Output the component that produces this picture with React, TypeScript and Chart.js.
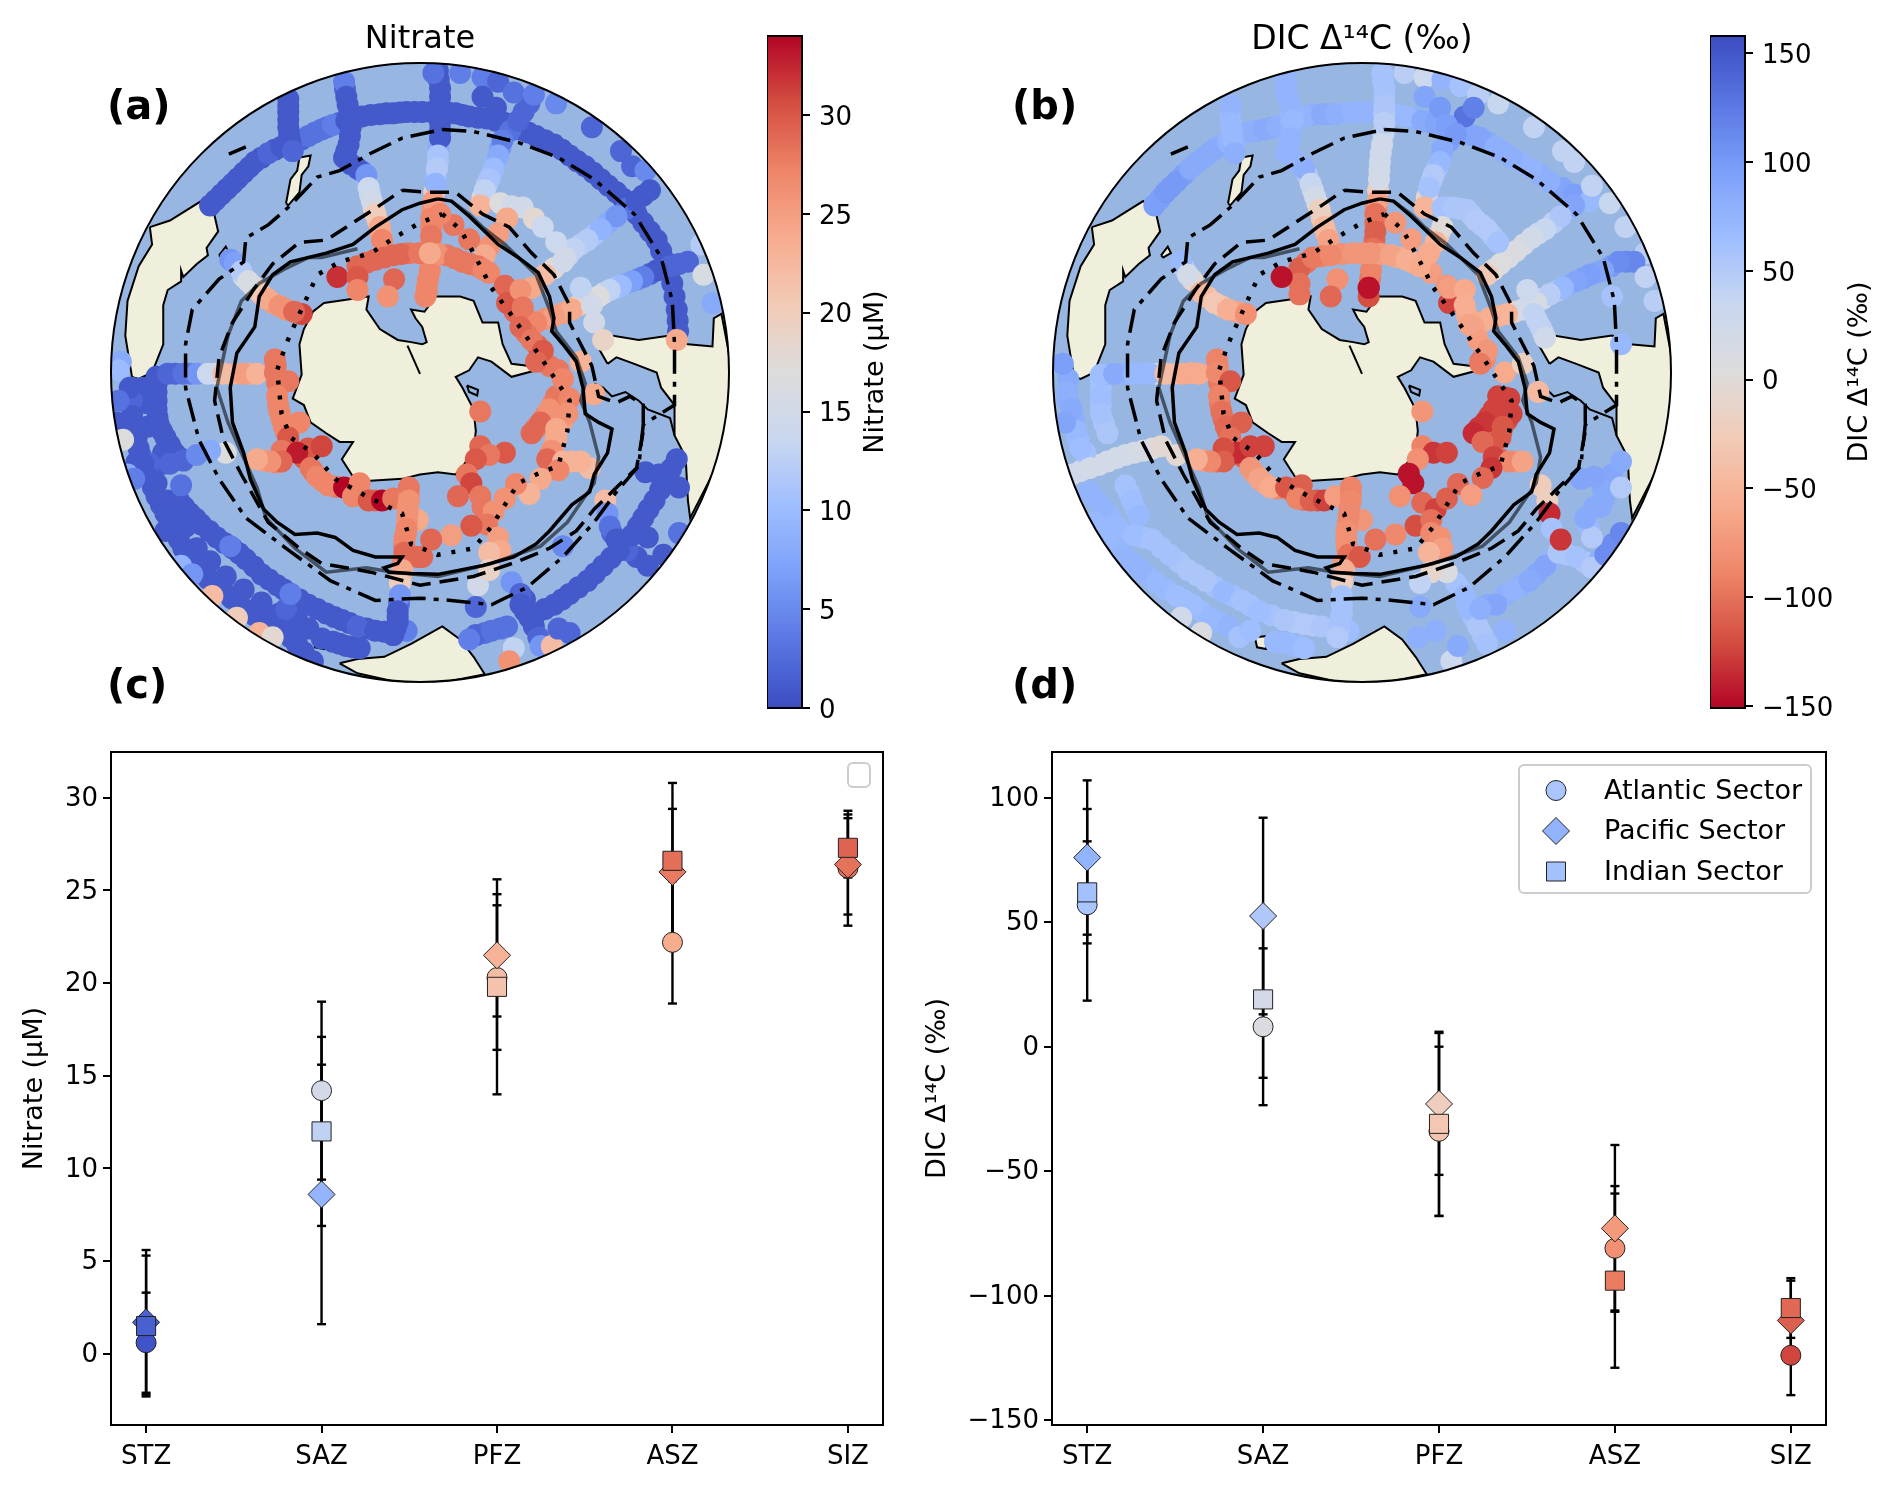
import React, { useEffect, useRef } from "react";
import { Chart, registerables } from "chart.js";
Chart.register(...registerables);
Chart.defaults.font.family = "'DejaVu Sans'";
Chart.defaults.color = "#000";

// ---------- panel c / d data ----------
const zones = ["STZ", "SAZ", "PFZ", "ASZ", "SIZ"];
const nitrateAtlantic = [0.6, 14.2, 20.3, 22.2, 26.2];
const nitratePacific = [1.7, 8.6, 21.5, 26.0, 26.4];
const nitrateIndian = [1.5, 12.0, 19.8, 26.6, 27.3];
const nitrateAtlanticErr = [2.7, 4.8, 3.9, 3.3, 3.1];
const nitratePacificErr = [3.9, 7.0, 3.3, 3.4, 2.7];
const nitrateIndianErr = [3.8, 5.1, 5.8, 4.2, 1.6];
const dicAtlantic = [57, 8, -34, -81, -124];
const dicPacific = [76, 52.5, -23, -73, -110];
const dicIndian = [62, 19, -31, -94, -105];
const dicAtlanticErr = [38.5, 31.5, 34, 25, 16];
const dicPacificErr = [31, 39.5, 28.5, 33.5, 16];
const dicIndianErr = [20.5, 31.5, 37, 35, 12];
const nitrateTicks = [0, 5, 10, 15, 20, 25, 30];
const dicTicks = [-150, -100, -50, 0, 50, 100];
const nitrateBarTicks = [0, 5, 10, 15, 20, 25, 30];
const dicBarTicks = [-150, -100, -50, 0, 50, 100, 150];
const sectorNames = ["Atlantic Sector", "Pacific Sector", "Indian Sector"];

// ---------- map geometry (map units) ----------
const landAustralia = [[135,430],[180,415],[250,370],[278,395],[288,440],[262,478],[265,495],[240,515],[210,545],[205,530],[205,555],[175,575],[165,610],[165,700],[140,765],[110,780],[95,775],[80,680],[85,600],[110,520],[140,470],[135,430]];
const landTasman = [[290,495],[305,475],[312,490],[295,500],[290,495]];
const landZealand = [[440,375],[450,320],[465,300],[470,270],[495,265],[490,290],[475,310],[470,350],[445,380],[440,375]];
const landEast = [[1160,745],[1135,700],[1165,690],[1170,680],[1230,690],[1300,680],[1340,700],[1395,705],[1398,640],[1415,630],[1440,765],[1420,950],[1345,1100],[1340,1060],[1335,960],[1310,910],[1310,840],[1280,800],[1270,765],[1220,745],[1180,730],[1160,745]];
const landSouth = [[560,1435],[600,1425],[660,1420],[720,1390],[790,1350],[830,1380],[860,1420],[885,1460],[740,1490],[600,1458],[560,1435]];
const landIslet = [[500,1375],[530,1372],[525,1402],[505,1398],[500,1375]];
const landAntarctica = [[480,665],[500,625],[525,605],[590,595],[625,590],[620,620],[650,665],[690,690],[720,695],[745,700],[755,695],[745,660],[730,640],[720,620],[750,625],[775,590],[830,590],[860,600],[880,650],[915,650],[925,700],[945,745],[985,750],[1000,760],[945,775],[900,740],[870,730],[850,760],[820,775],[835,800],[860,850],[865,900],[860,945],[840,975],[820,1000],[780,995],[740,1000],[700,1010],[620,1015],[590,1005],[565,965],[590,925],[560,925],[530,905],[495,880],[480,840],[455,825],[475,770],[470,700],[480,665]];
const landPoleLine = [[712,703],[740,768]];
const coastBay = [[1130,790],[1150,800],[1170,820],[1200,810],[1230,830],[1250,850],[1300,870],[1310,910]];
const lakePolygon = [[845,795],[870,805],[868,818],[850,810],[845,795]];

const frontSolid = [[780,365],[810,370],[850,405],[890,445],[915,470],[960,500],[1005,535],[1030,590],[1040,640],[1035,670],[1060,700],[1090,740],[1105,800],[1110,860],[1140,880],[1170,895],[1160,950],[1130,1000],[1120,1040],[1080,1070],[1030,1130],[1000,1160],[950,1190],[880,1210],[780,1230],[720,1228],[670,1225],[660,1215],[690,1205],[700,1190],[640,1190],[590,1175],[550,1145],[510,1135],[460,1138],[420,1110],[390,1080],[360,1010],[345,950],[320,880],[315,800],[330,720],[370,660],[380,590],[410,540],[450,510],[530,490],[590,470],[640,430],[700,390],[740,375],[780,365]];
const frontGray = [[810,370],[850,400],[880,430],[930,470],[1000,540],[1030,620],[1045,670],[1090,730],[1110,790],[1100,830],[1120,880],[1140,960],[1130,1020],[1070,1110],[1010,1165],[900,1205],[780,1235],[680,1225],[620,1215],[530,1225],[460,1170],[395,1100],[375,1030],[340,950],[310,880],[285,800],[310,680],[340,600],[380,560],[440,525],[490,500],[520,500],[600,480]];
const frontDashed = [[700,345],[760,350],[820,350],[880,400],[940,430],[990,490],[1040,540],[1075,610],[1075,650],[1100,700],[1125,750],[1140,820],[1180,835],[1210,820],[1240,840],[1240,900],[1225,985],[1180,1030],[1130,1080],[1090,1130],[1030,1170],[960,1200],[860,1235],[740,1255],[630,1225],[520,1205],[470,1170],[400,1110],[340,1000],[300,920],[280,830],[290,730],[320,650],[370,570],[410,515],[470,465],[530,460],[590,420],[650,380],[700,345]];
const frontDashDot = [[790,205],[860,210],[960,235],[1050,270],[1130,320],[1220,400],[1280,500],[1305,600],[1310,700],[1310,840],[1240,885],[1230,980],[1180,1040],[1130,1110],[1060,1190],[980,1260],[900,1300],[810,1290],[740,1285],[640,1290],[540,1245],[440,1170],[350,1100],[290,1010],[245,920],[215,800],[215,700],[230,620],[290,550],[345,510],[350,455],[400,425],[450,380],[510,315],[560,300],[630,260],[700,225],[790,205]];
const frontDashDotBit = [[350,245],[312,262]];
const frontDotted = [[790,400],[830,435],[860,490],[900,570],[950,640],[990,700],[1030,760],[1075,830],[1070,900],[1050,980],[1000,1000],[960,1020],[900,1120],[860,1170],[780,1185],[720,1160],[700,1090],[620,1050],[550,1010],[500,950],[450,915],[430,860],[420,760],[440,700],[470,630],[510,540],[560,510],[630,490],[690,450],[740,420],[790,400]];

// ---------- nitrate stations: [x, y, value] ----------
const nitrateOuter = [[270,380,1],[295,355,1],[320,330,1],[345,305,1],[370,280,1],[400,260,2],[430,245,1],[460,235,2],[490,220,3],[520,205,3],[545,195,4],[575,185,1],[610,175,1],[650,170,1],[680,168,1],[710,165,1],[745,165,1],[785,165,1],[820,168,1],[850,175,1],[890,180,1],[930,190,1],[965,205,1],[1000,220,1],[1040,240,1],[1075,265,1],[1110,290,1],[1145,320,1],[1180,350,1],[1210,380,1],[1240,420,1],[1270,460,1],[1290,510,1],[1305,560,1],[1315,620,1],[1318,670,1]];
const nitrateOuterFill = [[282,368,1],[308,342,1],[332,318,1],[358,292,1],[385,270,1],[415,252,1],[445,240,2],[475,228,2],[505,212,3],[532,200,3],[560,190,2],[592,180,1],[630,172,1],[665,168,1],[695,166,1],[728,165,1],[765,165,1],[802,166,1],[835,172,1],[870,178,1],[910,185,1],[948,198,1],[982,212,1],[1020,230,1],[1058,252,1],[1092,278,1],[1128,305,1],[1162,335,1],[1195,365,1],[1225,400,1],[1255,440,1],[1280,485,1],[1298,535,1],[1310,590,1],[1317,645,1]];
const nitrateMeridians = [[445,135,1],[445,165,1],[445,200,1],[450,235,1],[455,255,2],[570,95,4],[575,130,1],[582,165,1],[585,200,1],[580,240,1],[570,270,1],[600,295,1],[620,310,6],[625,340,14],[632,370,15],[640,400,20],[650,430,24],[655,460,27],[780,70,1],[785,110,1],[785,150,1],[785,190,1],[785,225,1],[780,265,11],[778,295,12],[775,330,9],[770,370,25],[765,410,27],[765,450,28],[762,530,27],[755,570,27],[752,590,27],[985,145,2],[960,185,2],[925,230,4],[915,265,8],[905,295,10],[895,320,11],[885,345,13],[875,380,23]];
const nitrateMeridianFill = [[445,150,1],[445,182,1],[447,218,1],[572,112,2],[578,148,1],[584,182,1],[583,220,1],[575,255,1],[585,285,1],[610,302,3],[622,325,10],[628,355,14],[636,385,18],[645,415,22],[652,445,25],[782,90,1],[785,130,1],[785,170,1],[785,208,1],[782,245,8],[780,280,11],[776,312,10],[772,350,20],[768,390,26],[765,430,27],[764,470,27],[763,510,26],[758,550,27],[972,165,2],[942,208,3],[920,248,6],[910,280,9],[900,308,10],[890,332,12],[880,362,18]];
const nitrateTop = [[770,75,3],[830,75,4],[880,85,4],[915,95,2],[880,130,1],[910,155,1],[950,120,3],[995,125,4],[1045,145,5],[1125,200,2],[1190,255,2],[1215,290,2],[1245,300,5],[1255,345,1],[1225,370,1],[1180,405,6],[1145,435,9],[1115,460,12],[1085,480,13],[1060,510,15],[1020,540,22],[990,570,24],[960,600,24]];
const nitrateRightTop = [[1370,470,12],[1340,510,2],[1300,520,2],[1270,530,1],[1240,545,4],[1215,555,7],[1190,565,10],[1165,575,13],[1140,590,17],[1110,600,19],[1080,620,24],[1040,635,25],[1000,650,27],[985,670,27],[1395,605,8],[1375,540,16],[1315,690,24],[920,375,17],[945,382,15],[970,385,15],[995,410,18],[1015,430,14],[1045,465,14],[1065,500,15],[1100,570,13],[1125,610,15],[1130,650,15],[1150,690,19],[935,410,24],[915,445,25],[895,475,26],[885,495,24]];
const nitrateRightFill = [[1240,357,1],[1202,388,3],[1162,420,8],[1130,448,11],[1100,470,12],[1072,495,14],[1040,525,18],[1320,515,2],[1285,525,1],[1255,538,2],[1228,550,5],[1202,560,8],[1178,570,11],[1152,582,15],[1125,595,18],[1095,610,21],[1060,628,25],[1020,642,26]];
const nitrateRing = [[600,520,29],[640,505,29],[680,495,29],[715,490,28],[800,495,28],[835,510,28],[870,520,28],[895,535,27],[620,512,29],[660,500,29],[698,492,29],[738,490,28],[780,492,26],[818,502,28],[852,515,28],[882,528,27],[762,490,24],[555,545,32],[600,545,30],[600,575,27],[682,550,29],[668,590,26],[755,580,27],[850,458,28],[815,425,28],[785,400,27],[948,585,28],[952,625,29],[978,640,27],[978,675,28],[1002,702,29],[1008,728,30],[1030,750,28],[930,565,29],[935,605,30],[965,575,26],[970,615,28],[965,660,29],[990,690,28],[1015,715,30],[1000,740,29],[1050,760,28],[1060,780,27],[1100,740,23],[1130,815,24]];
const nitrateRight = [[1060,822,27],[1038,835,27],[1020,865,27],[1000,892,28],[1058,878,25],[1045,908,24],[1040,932,25],[1030,955,27],[1080,970,23],[1120,985,22],[1045,820,28],[1075,825,27],[1030,850,26],[1010,880,29],[990,905,29],[1070,860,26],[1045,895,24],[1045,920,24],[1035,945,26],[1025,965,29],[1060,970,23],[1100,970,23],[1050,990,27],[875,855,28],[1010,1010,24],[985,1045,23],[955,1022,27],[930,1055,26]];
const nitrateLower = [[875,935,29],[930,950,30],[895,955,28],[865,965,30],[845,1000,28],[855,1020,31],[825,1050,29],[875,1050,28],[880,1075,28],[905,1085,26],[890,1115,28],[855,1118,30],[915,1145,25],[920,1175,24],[895,1180,22],[895,1220,19],[810,1140,25],[765,1150,29],[735,1105,24],[745,1190,29],[715,1045,27],[713,1075,26],[711,1108,26],[708,1138,27],[705,1165,28],[702,1200,27],[697,1235,22],[693,1298,3],[690,1328,1],[685,1355,1],[715,1030,28],[715,1060,26],[712,1090,26],[710,1125,27],[705,1150,27],[705,1180,29],[735,1190,29],[700,1220,24],[695,1250,20],[695,1278,6],[690,1315,1],[690,1340,1],[680,1370,1]];
const nitrateBottom = [[870,1255,15],[945,1248,6],[965,1275,2],[965,1300,1],[985,1330,1],[865,1305,2],[865,1370,2],[900,1360,3],[935,1350,3],[850,1380,4],[1010,1395,6],[1035,1395,22],[950,1400,13],[940,1430,26],[1050,1355,2],[1075,1365,2],[1155,1060,22],[1160,1090,6],[1165,1120,3],[1180,1150,1],[1205,1175,2],[1250,1210,1],[1000,1320,1],[1040,1300,1],[1075,1275,1],[1115,1245,1],[1150,1210,1],[1185,1175,1],[1215,1140,1],[1240,1100,1],[1265,1060,1],[1290,1010,1],[1315,965,1],[1245,995,1],[1275,1000,1],[1320,1030,1],[1250,1145,1],[1320,1135,3],[1285,1185,1],[1060,1165,5]];
const nitrateBottomFill = [[1020,1310,1],[1058,1288,1],[1095,1260,1],[1132,1228,1],[1168,1192,1],[1200,1158,1],[1228,1120,1],[1252,1080,1],[1278,1035,1],[1302,988,1],[1170,1135,2],[1192,1162,1],[1225,1190,1],[975,1288,1],[975,1315,1],[995,1350,1],[1005,1375,2],[885,1365,3],[920,1355,3]];
const nitrateLeftInner = [[385,585,22],[410,605,25],[440,620,26],[475,630,31],[335,520,9],[315,505,6],[345,545,15],[365,565,17],[375,575,20],[398,595,24],[425,612,26],[458,625,29],[325,512,7],[340,532,12],[355,555,16],[192,768,2],[225,768,4],[252,768,9],[282,768,18],[322,768,24],[360,768,24],[175,768,2],[210,768,3],[240,768,6],[265,768,14],[300,768,22],[345,768,25],[375,768,23],[417,750,28],[420,790,28],[422,838,27],[430,872,27],[440,902,28],[448,935,29],[390,968,25],[418,972,27],[480,962,30],[502,995,28],[522,1015,27],[552,1028,28],[590,1030,27],[608,1048,27],[640,1060,29],[415,735,28],[415,765,28],[445,785,28],[420,820,27],[425,855,27],[435,890,27],[470,880,27],[445,915,30],[430,945,28],[490,940,30],[520,935,31],[465,950,33],[430,970,29],[405,970,26],[375,965,24],[495,985,28],[510,1005,27],[535,1025,27],[570,1030,34],[605,1020,27],[590,1050,27],[625,1060,30],[655,1060,34],[680,1055,28],[305,950,17],[270,945,8],[240,955,5]];
const nitrateLeftBand = [[115,1000,1],[150,1020,1],[175,1060,1],[195,1095,1],[165,950,1],[130,890,1],[125,835,1],[120,800,1],[240,1170,1],[270,1200,1],[305,1235,1],[345,1265,1],[385,1295,1],[425,1320,1],[465,1335,1]];
const nitrateLeftArcs = [[150,792,1],[150,830,1],[152,868,1],[162,900,1],[180,932,1],[95,815,1],[95,848,1],[98,882,1],[105,920,1],[115,958,1],[128,992,1],[142,1030,1],[160,1070,1],[180,1110,1],[200,1150,1],[222,1188,1],[250,1222,1],[282,1255,1],[318,1285,1],[352,1312,1],[390,1335,1],[430,1360,1],[465,1392,1],[212,1075,1],[238,1102,1],[268,1130,1],[302,1158,1],[335,1182,1],[368,1212,1],[402,1242,1],[435,1265,1],[470,1288,1],[510,1310,1],[548,1328,1],[582,1342,1],[620,1355,1],[660,1362,1],[200,960,1],[165,975,1],[135,975,2],[105,972,1],[520,1378,1],[560,1390,1],[590,1398,1],[150,775,1],[150,810,1],[150,850,1],[155,885,1],[170,915,1],[190,950,1],[95,800,1],[95,830,2],[95,865,1],[100,900,1],[110,940,1],[120,975,1],[135,1010,1],[150,1050,1],[170,1090,1],[190,1130,1],[210,1170,1],[235,1205,1],[265,1240,1],[300,1270,1],[335,1300,1],[370,1325,1],[410,1345,1],[450,1375,1],[480,1410,1],[200,1060,1],[225,1090,1],[250,1115,1],[285,1145,1],[320,1170,1],[350,1195,1],[385,1230,1],[420,1255,1],[450,1275,1],[490,1300,1],[530,1320,1],[565,1335,1],[600,1350,2],[640,1360,1],[680,1365,1],[710,1360,4],[70,740,8],[65,760,10],[90,800,1],[65,830,3],[60,880,1],[75,920,17],[85,1000,8],[100,1010,4],[205,1025,3],[185,1105,1],[215,1120,1],[170,1130,1],[205,1210,9],[230,1230,6],[275,1280,22],[330,1330,20],[380,1365,23],[410,1375,18],[440,1310,2],[490,1355,1],[545,1385,1],[575,1395,1],[605,1400,1],[500,1430,1],[315,1165,4],[450,1275,4],[210,968,2],[180,975,2]];

// ---------- DIC stations: [x, y, value] ----------
const dicOuter = [[345,380,95],[370,350,100],[395,325,100],[425,295,85],[455,270,85],[480,250,85],[510,235,75],[560,210,80],[590,205,85],[620,200,80],[650,185,75],[680,175,75],[720,170,85],[750,170,80],[790,165,75],[820,165,75],[860,165,70],[910,175,70],[945,185,85],[975,190,90],[1000,200,95],[1045,215,90],[1075,225,90],[1110,245,80],[1145,270,80],[1190,295,75],[1230,325,80],[1285,355,95],[1320,370,70]];
const dicOuterFill = [[358,365,95],[382,338,100],[410,310,95],[440,282,85],[468,260,85],[495,242,80],[535,222,75],[575,208,85],[605,202,85],[635,192,75],[665,180,75],[700,172,80],[735,170,85],[770,167,75],[805,165,75],[840,165,70],[885,170,70],[928,180,80],[960,188,90],[1022,208,95],[1060,220,90],[1092,235,85],[1128,258,80],[1168,282,75],[1210,310,80],[1258,340,90],[1302,362,80]];
const dicMeridians = [[515,170,70],[518,208,70],[640,105,75],[645,135,75],[652,168,70],[652,205,75],[645,242,75],[660,278,75],[688,312,55],[700,345,25],[710,375,5],[720,410,-30],[730,445,-55],[857,92,60],[860,130,58],[860,170,50],[858,215,35],[852,260,25],[849,300,22],[846,345,-20],[842,385,-90],[840,420,-105],[838,460,-105],[832,505,-95],[828,550,-95],[515,150,75],[515,190,70],[520,225,70],[525,260,80],[640,90,75],[640,120,75],[650,150,75],[655,185,70],[650,225,75],[640,260,75],[680,295,80],[695,330,35],[705,360,20],[715,390,-20],[725,430,-45],[735,460,-65],[855,75,60],[860,110,60],[860,150,55],[860,190,45],[855,240,25],[850,280,25],[848,320,20],[845,370,-65],[840,400,-100],[840,440,-110],[835,480,-100],[830,530,-90],[825,570,-140],[825,590,-120]];
const dicTop = [[905,75,45],[950,85,30],[990,90,75],[1030,105,60],[1070,125,45],[1115,145,35],[950,130,90],[985,155,100],[1040,175,130],[1060,155,120],[1000,195,95],[1005,232,95],[988,265,80],[978,295,60],[965,325,55],[955,362,-10],[1020,215,100],[990,250,85],[985,280,70],[970,310,50],[960,340,60],[950,385,-50],[1195,200,40],[1260,255,40],[1285,280,40],[1325,335,40],[1365,375,35],[1400,430,40],[1370,590,60],[1390,700,70],[1270,392,75],[1238,420,45],[1205,445,28],[1172,470,15],[1138,500,8],[1105,528,-10],[1285,380,90],[1255,405,55],[1220,435,35],[1190,455,20],[1155,485,10],[1120,515,5],[1090,540,-30]];
const dicRightTop = [[1402,510,115],[1368,520,100],[1335,535,90],[1305,548,95],[1275,562,80],[1245,578,55],[1215,595,30],[1185,612,18],[1152,625,-15],[1115,635,-55],[1078,650,-60],[1002,385,58],[1030,388,55],[1055,402,52],[1078,425,50],[1102,450,55],[982,448,-25],[1188,602,35],[1202,645,40],[1215,672,32],[1445,490,45],[1420,510,115],[1385,510,110],[1350,530,90],[1320,540,95],[1290,555,90],[1260,570,70],[1230,585,45],[1200,605,15],[1170,620,20],[1135,630,-50],[1095,640,-55],[1060,660,-65],[1085,715,-90],[1075,740,-100],[1465,600,45],[1445,545,40],[1180,575,30],[1195,630,40],[1210,660,40],[1220,685,25],[990,385,60],[1015,385,55],[1045,390,55],[1065,415,50],[1090,435,50],[1115,465,60],[990,430,0],[975,465,-50],[965,535,-70],[1000,565,-75]];
const dicRing = [[685,512,-100],[720,497,-90],[765,492,-80],[810,490,-75],[852,492,-70],[892,500,-60],[925,512,-58],[1022,590,-60],[1045,632,-60],[1070,690,-70],[1085,735,-85],[670,525,-110],[670,560,-100],[670,585,-100],[630,545,-145],[755,550,-80],[740,590,-105],[700,500,-95],[740,495,-85],[790,490,-75],[830,490,-75],[875,495,-65],[910,505,-55],[940,520,-60],[885,420,-75],[920,458,-70],[960,490,-60],[825,570,-145],[1005,605,-125],[1005,570,-70],[1040,575,-60],[1040,610,-55],[1050,655,-65],[1090,715,-75],[1075,745,-95],[1130,765,-60],[1170,745,-20],[1205,810,-45]];
const dicRight = [[1128,822,-125],[1095,865,-125],[1072,892,-130],[1135,875,-120],[1122,902,-115],[1100,930,-110],[1120,965,-105],[1155,970,-75],[1115,820,-125],[1140,825,-125],[1105,850,-125],[1085,880,-130],[1060,905,-135],[1145,860,-125],[1125,890,-115],[1120,915,-115],[1080,925,-105],[1105,960,-125],[1140,970,-85],[1170,970,-65],[1100,985,-130],[945,855,-75],[1080,1008,-105],[1025,1022,-105],[1000,1055,-110],[1055,1048,-70]];
const dicLower = [[945,935,-90],[970,950,-130],[1000,950,-125],[935,965,-80],[915,998,-145],[925,1020,-145],[895,1050,-80],[945,1065,-105],[975,1080,-125],[930,1118,-120],[965,1105,-100],[965,1135,-85],[985,1145,-80],[990,1170,-70],[960,1180,-50],[885,1138,-85],[840,1150,-100],[810,1105,-75],[1000,1225,10],[965,1225,-10],[940,1250,40],[785,1045,-87],[782,1078,-85],[778,1112,-82],[775,1145,-80],[777,1172,-90],[768,1205,-75],[767,1235,-40],[765,1300,60],[762,1332,60],[758,1360,55],[785,1030,-90],[785,1060,-85],[780,1095,-85],[775,1130,-80],[775,1160,-80],[780,1185,-100],[805,1190,-115],[770,1220,-55],[765,1250,-20],[765,1280,60],[765,1320,60],[760,1345,60],[755,1375,50]];
const dicBottom = [[1092,1300,85],[1130,1278,80],[1168,1255,80],[1202,1228,88],[1235,1195,75],[1270,1185,55],[1308,1202,55],[1340,1200,80],[1372,1160,110],[1352,1055,85],[1370,1000,88],[1330,1075,85],[1318,1122,70],[1045,1295,70],[1060,1330,62],[1080,1370,58],[1030,1265,65],[1020,1250,60],[1040,1280,70],[1050,1310,70],[1070,1350,55],[1090,1390,60],[940,1305,85],[975,1360,80],[935,1375,80],[1010,1430,30],[1025,1395,85],[1130,1360,75],[1110,1300,90],[1075,1310,80],[1150,1265,75],[1185,1245,85],[1220,1210,90],[1250,1180,55],[1290,1190,60],[1325,1215,50],[1355,1185,110],[1390,1135,115],[1325,1145,50],[1310,1100,85],[1345,1075,85],[1350,1035,85],[1390,1030,50],[1330,1005,90],[1390,970,85],[1300,1010,90],[1210,1025,-25],[1225,1060,-20],[1230,1090,-135],[1235,1125,60],[1255,1150,-130]];
const dicLeftInner = [[465,592,-38],[495,612,-40],[530,625,-65],[412,525,50],[430,552,-10],[240,769,75],[278,768,78],[318,768,70],[352,768,20],[390,768,-50],[428,766,-60],[487,750,-88],[490,790,-95],[492,838,-95],[500,872,-102],[510,902,-102],[520,935,-125],[455,968,-70],[485,970,-100],[515,955,-120],[545,960,-110],[570,998,-70],[592,1020,-62],[622,1032,-85],[655,1040,-100],[680,1058,-100],[710,1060,-115],[450,580,-45],[480,605,-30],[510,620,-55],[550,630,-80],[405,510,70],[420,540,20],[225,770,65],[255,768,85],[300,768,70],[335,768,70],[370,768,-40],[410,768,-60],[445,768,-60],[485,735,-90],[485,765,-85],[515,785,-115],[490,820,-90],[495,855,-100],[505,890,-105],[540,880,-110],[515,915,-100],[530,950,-135],[500,940,-120],[590,935,-125],[560,935,-125],[500,970,-110],[470,970,-85],[440,965,-55],[560,985,-75],[580,1010,-65],[605,1030,-60],[640,1030,-115],[675,1025,-110],[665,1055,-90],[695,1060,-110],[725,1060,-125],[750,1050,-70]];
const dicLeftArcs = [[180,992,22],[220,978,20],[260,962,20],[300,950,18],[340,940,5],[152,780,85],[152,830,82],[165,875,80],[175,920,68],[190,950,60],[225,800,62],[225,840,62],[232,882,58],[215,1058,75],[245,1098,72],[272,1135,68],[320,1145,62],[360,1168,60],[400,1202,58],[440,1232,55],[480,1258,62],[520,1280,65],[560,1302,62],[608,1325,60],[658,1340,52],[700,1348,52],[750,1355,60],[225,1130,70],[260,1170,72],[298,1205,75],[332,1235,72],[372,1265,68],[412,1290,65],[450,1315,68],[490,1340,72],[288,1042,62],[302,1078,68],[632,1388,70],[665,1395,68],[160,1000,25],[200,985,20],[240,970,20],[280,955,20],[320,945,15],[360,935,-5],[395,955,-5],[140,745,95],[150,810,80],[160,850,85],[170,900,70],[180,940,65],[225,780,60],[225,820,65],[225,860,60],[240,905,55],[145,880,90],[200,1040,75],[230,1075,75],[260,1120,70],[280,1025,60],[295,1060,65],[310,1095,70],[300,1140,65],[340,1150,60],[380,1185,60],[420,1220,55],[460,1245,55],[500,1270,70],[540,1290,60],[580,1315,65],[635,1335,55],[680,1345,50],[720,1350,55],[780,1360,65],[210,1110,70],[240,1150,70],[280,1190,75],[315,1220,75],[350,1250,70],[395,1280,65],[430,1300,65],[470,1330,70],[510,1350,75],[535,1375,60],[560,1360,65],[405,1330,25],[450,1365,10],[615,1385,70],[650,1390,70],[680,1400,65]];

const nitrateStations = [...nitrateOuterFill, ...nitrateOuter, ...nitrateLeftBand, ...nitrateLeftArcs, ...nitrateBottomFill, ...nitrateBottom, ...nitrateMeridianFill, ...nitrateMeridians, ...nitrateRightFill, ...nitrateTop, ...nitrateRightTop, ...nitrateLeftInner, ...nitrateLower, ...nitrateRight, ...nitrateRing];
const dicStations = [...dicOuterFill, ...dicOuter, ...dicLeftArcs, ...dicBottom, ...dicMeridians, ...dicTop, ...dicRightTop, ...dicLeftInner, ...dicLower, ...dicRight, ...dicRing];

// ---------- colours ----------
const coolwarmStops = ["#3b4cc0", "#5977e3", "#7b9ff9", "#9ebeff", "#c9d7f0", "#dddcdc", "#f2cbb7", "#f7ac8e", "#ee8468", "#d44e41", "#b40426"];
const NITRATE_RANGE = [0, 34];
const NITRATE_MARKER_TOP = 31.7;
const DIC_RANGE = [-151, 158];
function rgb(h: string) { return [1, 3, 5].map((i) => parseInt(h.slice(i, i + 2), 16)); }
function coolwarm(t: number) {
  const c = Math.max(0, Math.min(1, t)) * 10;
  const i = Math.min(9, Math.floor(c));
  const a = rgb(coolwarmStops[i]), b = rgb(coolwarmStops[i + 1]);
  const f = c - i;
  return `rgb(${a.map((v, k) => Math.round(v + (b[k] - v) * f)).join(",")})`;
}
const nitrateColor = (v: number) => coolwarm((v - NITRATE_RANGE[0]) / (NITRATE_RANGE[1] - NITRATE_RANGE[0]));
const nitrateMarkerColor = (v: number) => coolwarm(v / NITRATE_MARKER_TOP);
const dicColor = (v: number) => coolwarm(1 - (v - DIC_RANGE[0]) / (DIC_RANGE[1] - DIC_RANGE[0]));

const OCEAN = "#97b6e1";
const LAND = "#efefdb";
const FONT = "'DejaVu Sans'";
const minus = (v: any) => String(v).replace("-", "\u2212");
const xy = (a: number[][], dx = 0) => a.map((p) => ({ x: p[0] - dx, y: p[1] }));

function polyPath(ctx: any, sx: any, sy: any, poly: number[][]) {
  ctx.beginPath();
  poly.forEach((p, i) => {
    const X = sx.getPixelForValue(p[0]), Y = sy.getPixelForValue(p[1]);
    i ? ctx.lineTo(X, Y) : ctx.moveTo(X, Y);
  });
  ctx.closePath();
}

function mapConfig(title: string, titleSize: number, stations: number[][], color: (v: number) => string, shift: number, sidePad: number, labels: any[]) {
  const lineSet = (data: number[][], extra: any) => ({
    data: xy(data), showLine: true, pointRadius: 0, borderColor: "#000", borderWidth: 2, tension: 0, ...extra,
  });
  const mapLayer = {
    id: "mapLayer",
    beforeDatasetsDraw(chart: any) {
      const { ctx, chartArea: a, scales } = chart;
      ctx.save();
      ctx.beginPath();
      ctx.ellipse((a.left + a.right) / 2, (a.top + a.bottom) / 2, a.width / 2, a.height / 2, 0, 0, Math.PI * 2);
      ctx.clip();
      ctx.fillStyle = OCEAN;
      ctx.fillRect(a.left, a.top, a.width, a.height);
      ctx.fillStyle = LAND;
      [landAustralia, landTasman, landZealand, landEast, landSouth, landIslet, landAntarctica].forEach((p) => {
        polyPath(ctx, scales.x, scales.y, p);
        ctx.fill();
      });
      ctx.fillStyle = OCEAN;
      polyPath(ctx, scales.x, scales.y, lakePolygon);
      ctx.fill();
    },
    afterDatasetsDraw(chart: any) {
      const { ctx, chartArea: a } = chart;
      ctx.restore();
      ctx.beginPath();
      ctx.ellipse((a.left + a.right) / 2, (a.top + a.bottom) / 2, a.width / 2, a.height / 2, 0, 0, Math.PI * 2);
      ctx.strokeStyle = "#000";
      ctx.lineWidth = 2;
      ctx.stroke();
    },
    afterDraw(chart: any) {
      const { ctx } = chart;
      ctx.save();
      ctx.fillStyle = "#000";
      ctx.font = `bold 40px ${FONT}`;
      ctx.textBaseline = "middle";
      labels.forEach((l) => ctx.fillText(l.text, l.x, l.y));
      ctx.restore();
    },
  };
  const coast = [landAustralia, landTasman, landZealand, landEast, landSouth, landIslet, landAntarctica, landPoleLine, coastBay, lakePolygon];
  return {
    type: "scatter",
    data: {
      datasets: [
        lineSet(frontDotted, { borderWidth: 4.5, borderDash: [4, 11], order: 0 }),
        lineSet(frontDashDot, { borderWidth: 3.5, borderDash: [24, 8, 5, 8], order: 0 }),
        lineSet(frontDashDotBit, { borderWidth: 3.5, order: 0 }),
        lineSet(frontDashed, { borderWidth: 3.5, borderDash: [19, 9], order: 0 }),
        lineSet(frontSolid, { borderWidth: 3.5, order: 0 }),
        lineSet(frontGray, { borderWidth: 3.5, borderColor: "rgba(0,0,0,0.55)", order: 0 }),
        {
          label: title,
          data: xy(stations, shift),
          pointRadius: 11,
          pointBorderWidth: 0,
          pointBackgroundColor: stations.map((s) => color(s[2])),
          order: 1,
        },
        ...coast.map((c) => lineSet(c, { order: 2 })),
      ],
    },
    options: {
      responsive: false, animation: false, devicePixelRatio: 1, events: [],
      layout: { padding: { left: sidePad, right: sidePad, bottom: 38, top: 0 } },
      plugins: {
        legend: { display: false }, tooltip: { enabled: false },
        title: { display: true, text: title, color: "#000", font: { size: titleSize, weight: "normal", family: FONT, lineHeight: 1.2 }, padding: { top: 37 - titleSize * 0.6 + 3, bottom: 63 - (37 + titleSize * 0.6 + 3) } },
      },
      scales: {
        x: { type: "linear", display: false, min: 48, max: 1432 },
        y: { type: "linear", display: false, min: 52, max: 1478, reverse: true },
      },
    },
    plugins: [mapLayer],
  };
}

function colorbarConfig(label: string, range: number[], ticks: number[], color: (v: number) => string, labelOffset: number) {
  const frame = {
    id: "cbFrame",
    afterDraw(chart: any) {
      const { ctx, chartArea: a } = chart;
      ctx.save();
      ctx.strokeStyle = "#000"; ctx.lineWidth = 2;
      ctx.strokeRect(a.left, a.top, a.width, a.height);
      ctx.translate(a.right + labelOffset, (a.top + a.bottom) / 2);
      ctx.rotate(-Math.PI / 2);
      ctx.fillStyle = "#000";
      ctx.font = `27px ${FONT}`;
      ctx.textAlign = "center"; ctx.textBaseline = "middle";
      ctx.fillText(label, 0, 0);
      ctx.restore();
    },
  };
  return {
    type: "bar",
    data: {
      labels: [label],
      datasets: [{
        data: [range],
        barPercentage: 1, categoryPercentage: 1, borderWidth: 0,
        backgroundColor: (c: any) => {
          const a = c.chart.chartArea;
          if (!a) return "#888";
          const g = c.chart.ctx.createLinearGradient(0, a.bottom, 0, a.top);
          for (let i = 0; i <= 40; i++) {
            g.addColorStop(i / 40, color(range[0] + ((range[1] - range[0]) * i) / 40));
          }
          return g;
        },
      }],
    },
    options: {
      responsive: false, animation: false, devicePixelRatio: 1, events: [],
      layout: { padding: { top: 36, bottom: 52, left: 0, right: 0 } },
      plugins: { legend: { display: false }, tooltip: { enabled: false } },
      scales: {
        x: { display: false },
        y: {
          type: "linear", position: "right", min: range[0], max: range[1],
          afterBuildTicks: (s: any) => { s.ticks = ticks.map((v) => ({ value: v })); },
          afterFit: (s: any) => { s.width = 140; },
          grid: { drawOnChartArea: false, drawTicks: true, tickLength: 8, color: "#000", lineWidth: 2 },
          border: { color: "#000", width: 2 },
          ticks: { font: { size: 26, family: FONT }, color: "#000", padding: 9, labelOffset: 3, callback: minus, autoSkip: false },
        },
      },
    },
    plugins: [frame],
  };
}

function panelConfig(
  yLabel: string, yRange: number[], yTicks: number[], series: number[][], errs: number[][],
  color: (v: number) => string, widthLeft: number, titlePad: number, legend: boolean,
) {
  const styles = ["circle", "rectRot", "rect"];
  const radii = [10, 13.5, 13.5];
  const errSets = series.map((vals, s) => ({
    data: vals.flatMap((v, i) => [{ x: i, y: v - errs[s][i] }, { x: i, y: v + errs[s][i] }, { x: i, y: null }]),
    showLine: true, spanGaps: false, borderColor: "#000", borderWidth: 2.4,
    pointStyle: "line", pointRadius: 4.5, pointBorderColor: "#000", pointBorderWidth: 2.4, order: 5,
  }));
  const markerSets = series.map((vals, s) => ({
    label: sectorNames[s],
    data: vals.map((v, i) => ({ x: i, y: v })),
    pointStyle: styles[s], pointRadius: radii[s], pointBorderColor: "#222", pointBorderWidth: 1,
    pointBackgroundColor: vals.map(color), order: 3 - s,
  }));
  const deco = {
    id: "panelDeco",
    afterDraw(chart: any) {
      const { ctx, chartArea: a } = chart;
      ctx.save();
      ctx.strokeStyle = "#000"; ctx.lineWidth = 2;
      ctx.strokeRect(a.left, a.top, a.width, a.height);
      ctx.strokeStyle = "#cccccc"; ctx.fillStyle = "rgba(255,255,255,0.8)"; ctx.lineWidth = 2;
      ctx.beginPath();
      if (legend) {
        ctx.roundRect(a.right - 307, a.top + 13, 292, 128, 5);
        ctx.fill(); ctx.stroke();
        sectorNames.forEach((n, s) => {
          const y = a.top + 38.5 + s * 40.5, x = a.right - 270;
          ctx.fillStyle = color(series[s][0]);
          ctx.strokeStyle = "#222"; ctx.lineWidth = 1;
          ctx.beginPath();
          if (s === 0) ctx.arc(x, y, 10, 0, Math.PI * 2);
          if (s === 1) { ctx.moveTo(x - 13.5, y); ctx.lineTo(x, y - 13.5); ctx.lineTo(x + 13.5, y); ctx.lineTo(x, y + 13.5); ctx.closePath(); }
          if (s === 2) ctx.rect(x - 9.5, y - 9.5, 19, 19);
          ctx.fill(); ctx.stroke();
          ctx.fillStyle = "#000";
          ctx.font = `27px ${FONT}`;
          ctx.textBaseline = "middle";
          ctx.fillText(n, a.right - 222, y + 1);
        });
      } else {
        ctx.roundRect(a.right - 35, a.top + 11, 22, 24, 5);
        ctx.fill(); ctx.stroke();
      }
      ctx.restore();
    },
  };
  return {
    type: "scatter",
    data: { datasets: [...markerSets, ...errSets] },
    options: {
      responsive: false, animation: false, devicePixelRatio: 1, events: [],
      layout: { padding: { top: 32, right: 20, left: 0, bottom: 0 } },
      plugins: { legend: { display: false }, tooltip: { enabled: false } },
      scales: {
        x: {
          type: "linear", min: -0.2, max: 4.2,
          afterBuildTicks: (s: any) => { s.ticks = zones.map((_, i) => ({ value: i })); },
          afterFit: (s: any) => { s.height = 60; },
          grid: { drawOnChartArea: false, drawTicks: true, tickLength: 8, color: "#000", lineWidth: 2 },
          border: { color: "#000", width: 2 },
          ticks: { font: { size: 26, family: FONT }, color: "#000", padding: 9, maxRotation: 0, autoSkip: false, callback: (v: any) => zones[v] },
        },
        y: {
          type: "linear", min: yRange[0], max: yRange[1],
          afterBuildTicks: (s: any) => { s.ticks = yTicks.map((v) => ({ value: v })); },
          afterFit: (s: any) => { s.width = widthLeft; },
          grid: { drawOnChartArea: false, drawTicks: true, tickLength: 8, color: "#000", lineWidth: 2 },
          border: { color: "#000", width: 2 },
          title: { display: true, text: yLabel, color: "#000", font: { size: 27, family: FONT }, padding: { top: titlePad, bottom: 0 } },
          ticks: { font: { size: 26, family: FONT }, color: "#000", padding: 5, labelOffset: 1.5, autoSkip: false, callback: minus },
        },
      },
    },
    plugins: [deco],
  };
}

function Panel({ config, left, top, width, height }: any) {
  const ref = useRef<HTMLCanvasElement>(null);
  useEffect(() => {
    const c = new Chart(ref.current as any, config());
    return () => c.destroy();
  }, []);
  return <canvas ref={ref} width={width} height={height} style={{ position: "absolute", left, top, width, height }} />;
}

export default function App() {
  return (
    <div style={{ position: "absolute", left: 0, top: 0, width: 1892, height: 1485, background: "#fff", overflow: "hidden" }}>
      <Panel left={90} top={0} width={660} height={720}
        config={() => mapConfig("Nitrate", 32, nitrateStations, nitrateColor, 0, 21, [{ text: "(a)", x: 17, y: 109 }, { text: "(c)", x: 17, y: 688 }])} />
      <Panel left={1002} top={0} width={720} height={720}
        config={() => mapConfig("DIC \u0394\u00b9\u2074C (\u2030)", 33, dicStations, dicColor, 70, 51, [{ text: "(b)", x: 10, y: 109 }, { text: "(d)", x: 10, y: 688 }])} />
      <Panel left={767} top={0} width={175} height={760}
        config={() => colorbarConfig("Nitrate (\u03bcM)", NITRATE_RANGE, nitrateBarTicks, nitrateColor, 74)} />
      <Panel left={1710} top={0} width={175} height={760}
        config={() => colorbarConfig("DIC \u0394\u00b9\u2074C (\u2030)", DIC_RANGE, dicBarTicks, dicColor, 115)} />
      <Panel left={0} top={720} width={903} height={765}
        config={() => panelConfig("Nitrate (\u03bcM)", [-3.84, 32.47], nitrateTicks, [nitrateAtlantic, nitratePacific, nitrateIndian], [nitrateAtlanticErr, nitratePacificErr, nitrateIndianErr], nitrateMarkerColor, 111, 19, false)} />
      <Panel left={915} top={720} width={931} height={765}
        config={() => panelConfig("DIC \u0394\u00b9\u2074C (\u2030)", [-152, 118.4], dicTicks, [dicAtlantic, dicPacific, dicIndian], [dicAtlanticErr, dicPacificErr, dicIndianErr], dicColor, 137, 7, true)} />
    </div>
  );
}
